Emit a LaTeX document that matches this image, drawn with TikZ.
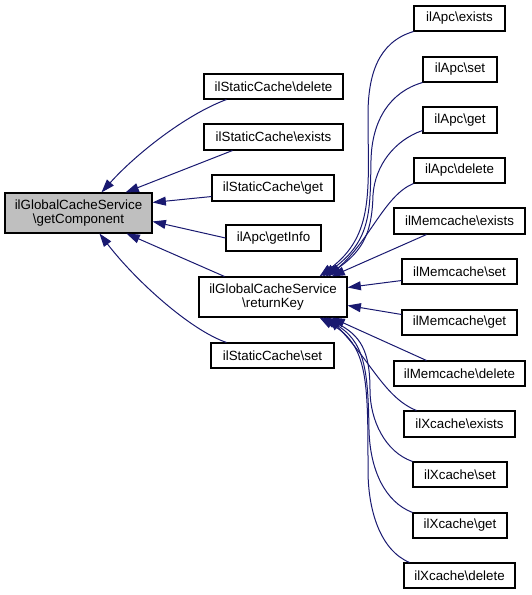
\documentclass[tikz,border=0pt]{standalone}
\usepackage{fontspec}
\setmainfont{Liberation Sans}
\usetikzlibrary{arrows.meta,calc}
\definecolor{edgeblue}{HTML}{191970}
\definecolor{hlgray}{HTML}{BFBFBF}
\begin{document}
\begin{tikzpicture}[x=0.75pt,y=-0.75pt,
  box/.style={draw=black,line width=0.8pt,fill=white,inner sep=0pt,align=center,font=\fontsize{10}{10.5}\selectfont},
  hlbox/.style={box,fill=hlgray},
  bx/.style n args={4}{minimum width={(#3-#1)*0.75pt}, minimum height={(#4-#2)*0.75pt}, at={({(#1+#3)/2},{(#2+#4)/2})}},
  edge/.style={draw=edgeblue,line width=0.75pt,-{Triangle[length=10pt,width=6.7pt]}}]
\useasboundingbox (0,0) rectangle (531,595);
% left
\node[hlbox, bx={5}{193}{152}{233}] (gc) {ilGlobalCacheService\\\textbackslash getComponent};
% middle
\node[box, bx={204}{74}{343}{99}] (sd) {ilStaticCache\textbackslash delete};
\node[box, bx={204}{124}{343}{150}] (se) {ilStaticCache\textbackslash exists};
\node[box, bx={212}{175}{334}{201}] (sg) {ilStaticCache\textbackslash get};
\node[box, bx={226}{225}{321}{251}] (gi) {ilApc\textbackslash getInfo};
\node[box, bx={199}{277}{347}{317}] (rk) {ilGlobalCacheService\\\textbackslash returnKey};
\node[box, bx={211}{343}{334}{368}] (ss) {ilStaticCache\textbackslash set};
% right
\node[box, bx={414}{6}{505}{31}] (ae) {ilApc\textbackslash exists};
\node[box, bx={423}{57}{497}{82}] (as) {ilApc\textbackslash set};
\node[box, bx={423}{107}{497}{133}] (ag) {ilApc\textbackslash get};
\node[box, bx={414}{158}{505}{183}] (ad) {ilApc\textbackslash delete};
\node[box, bx={394}{208}{525}{234}] (me) {ilMemcache\textbackslash exists};
\node[box, bx={402}{259}{517}{284}] (ms) {ilMemcache\textbackslash set};
\node[box, bx={402}{310}{517}{335}] (mg) {ilMemcache\textbackslash get};
\node[box, bx={394}{361}{525}{386}] (md) {ilMemcache\textbackslash delete};
\node[box, bx={404}{411}{515}{437}] (xe) {ilXcache\textbackslash exists};
\node[box, bx={413}{462}{507}{487}] (xs) {ilXcache\textbackslash set};
\node[box, bx={413}{513}{507}{538}] (xg) {ilXcache\textbackslash get};
\node[box, bx={404}{563}{515}{588}] (xd) {ilXcache\textbackslash delete};
% edges to getComponent
\draw[edge] ($(sd.south west)+(23,0)$) .. controls (185,115) and (135,155) .. ($(gc.north west)+(97,0)$);
\draw[edge] ($(se.south west)+(29,0)$) -- ($(gc.north west)+(121,0)$);
\draw[edge] ($(sg.south west)+(0,-5)$) -- ($(gc.north east)+(0,10)$);
\draw[edge] (gi.west) -- ($(gc.north east)+(0,29)$);
\draw[edge] ($(rk.north west)+(26,0)$) -- ($(gc.south west)+(122,0)$);
\draw[edge] ($(ss.north west)+(16,0)$) .. controls (190,330) and (135,280) .. ($(gc.south west)+(95,0)$);
% edges to returnKey (top)
\draw[edge] (ae.south west) .. controls (378,42) and (368,75) .. (368,115) .. controls (368,190) and (375,235) .. ($(rk.north west)+(121,0)$);
\draw[edge] (as.south west) .. controls (390,92) and (372,120) .. (371,160) .. controls (370,210) and (372,240) .. ($(rk.north west)+(124,0)$);
\draw[edge] ($(ag.south west)+(0,-3)$) .. controls (395,140) and (375,165) .. (373,195) .. controls (372,230) and (365,250) .. ($(rk.north west)+(127,0)$);
\draw[edge] (ad.south west) .. controls (385,195) and (370,240) .. ($(rk.north west)+(130,0)$);
\draw[edge] ($(me.south west)+(33,0)$) -- ($(rk.north west)+(133,0)$);
% right side
\draw[edge] ($(ms.south west)+(0,-4)$) -- ($(rk.north east)+(0,11)$);
\draw[edge] ($(mg.north west)+(0,5)$) -- ($(rk.north east)+(0,29)$);
% bottom
\draw[edge] ($(md.north west)+(33,0)$) -- ($(rk.south west)+(133,0)$);
\draw[edge] ($(xe.north west)+(13,0)$) .. controls (385,398) and (370,360) .. ($(rk.south west)+(130,0)$);
\draw[edge] (xs.north west) .. controls (385,452) and (370,420) .. (370,390) .. controls (370,350) and (360,335) .. ($(rk.south west)+(127,0)$);
\draw[edge] (xg.north west) .. controls (385,502) and (370,470) .. (369,430) .. controls (368,370) and (365,340) .. ($(rk.south west)+(124,0)$);
\draw[edge] ($(xd.north west)+(6,0)$) .. controls (380,550) and (368,510) .. (368,470) .. controls (368,380) and (368,345) .. ($(rk.south west)+(121,0)$);
\end{tikzpicture}
\end{document}
